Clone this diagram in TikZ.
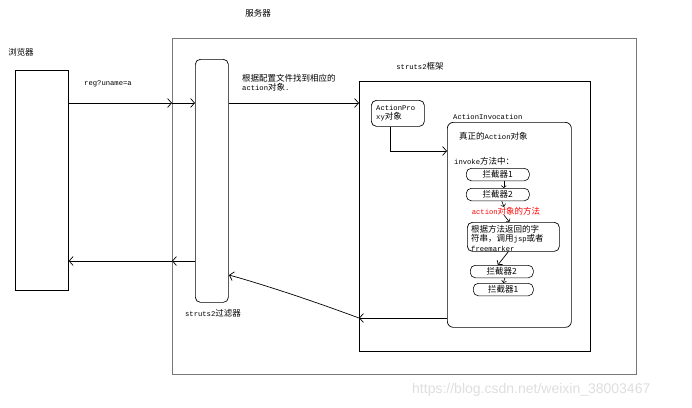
\documentclass[tikz,border=0pt]{standalone}
\usepackage{fontspec}
\setmainfont{Liberation Mono}
\newfontfamily\cjk[Scale=1.18]{Noto Sans CJK SC}
\newfontfamily\wmfont{Liberation Sans}
\usetikzlibrary{arrows.meta, positioning, calc}
\definecolor{servergray}{RGB}{120, 120, 120}
\definecolor{markgray}{RGB}{222, 222, 222}
\tikzset{
    plainbox/.style = {rectangle, draw, line width=0.7pt, anchor=north west, inner sep=0pt},
    roundbox/.style = {plainbox, rounded corners=5pt},
    pillbox/.style = {plainbox, line width=0.6pt, rounded corners=5pt, minimum height=12.5pt, font=\cjk\fontsize{7.2}{8}\selectfont},
    txt/.style = {inner sep=0pt, font=\fontsize{7.2}{9.5}\selectfont},
    arrow/.style = {line width=0.7pt, -{Straight Barb[length=4pt,width=9pt]}},
    tinyarrow/.style = {line width=0.6pt, -{Straight Barb[length=2pt,width=5pt]}}
}

\begin{document}
\begin{tikzpicture}[x=1pt, y=-1pt]
\useasboundingbox (0,0) rectangle (692,407);

% browser and server
\node (server) [plainbox, draw=servergray, minimum width=464pt, minimum height=336pt] at (172,38) {};
\node (servertitle) [txt, font=\cjk\fontsize{7.2}{8}\selectfont] at (258,13) {服务器};
\node (browser) [plainbox, minimum width=53pt, minimum height=220pt] at (15,70) {};
\node (browsertitle) [txt, font=\cjk\fontsize{7.2}{8}\selectfont] at (21,52) {浏览器};
\node (filter) [roundbox, minimum width=33pt, minimum height=243pt] at (195,59) {};
\node (filtertitle) [txt] at (213,313) {struts2{\cjk 过滤器}};

% struts2 framework
\node (frame) [plainbox, minimum width=231pt, minimum height=270pt] at (359,81) {};
\node (frametitle) [txt] at (420,66) {struts2{\cjk 框架}};
\node (proxy) [roundbox, minimum width=53pt, minimum height=26pt] at (371,100) {};
\node (proxytext) [txt, align=left, anchor=north west] at (376,105) {ActionPro\\xy{\cjk 对象}};
\node (invocation) [roundbox, rounded corners=6pt, minimum width=124pt, minimum height=205pt] at (447,122) {};
\node (invoctitle) [txt, anchor=south west] at (453,120) {ActionInvocation};
\node (realaction) [txt, anchor=west] at (459,136) {{\cjk 真正的}Action{\cjk 对象}};
\node (invoke) [txt, anchor=west] at (454,161) {invoke{\cjk 方法中：}};
\node (icpt1) [pillbox, minimum width=63pt] at (466,168) {拦截器1};
\node (icpt2) [pillbox, minimum width=63pt] at (466,188) {拦截器2};
\node (method) [txt, text=red] at (506,211) {action{\cjk 对象的方法}};
\node (result) [roundbox, minimum width=92pt, minimum height=29pt] at (467,222) {};
\node (resulttext) [txt, align=left, anchor=north west] at (471,225) {{\cjk 根据方法返回的字}\\{\cjk 符串，调用}jsp{\cjk 或者}\\freemarker};
\node (icpt3) [pillbox, minimum width=63pt] at (470,265) {拦截器2};
\node (icpt4) [pillbox, minimum width=60pt] at (473,283) {拦截器1};

% request
\coordinate (reqgate) at (172,103);
\draw [arrow] (browser.east |- reqgate) -- (reqgate);
\draw [arrow] (reqgate) -- (filter.west |- reqgate);
\node (reqlabel) [txt] at (108,84) {reg?uname=a};
\draw [arrow] (filter.east |- reqgate) -- (frame.west |- reqgate);
\node (findlabel) [txt, align=left, anchor=north west] at (242,74) {{\cjk 根据配置文件找到相应的}\\action{\cjk 对象}.};

% inside the framework
\coordinate (proxydrop) at (390,151);
\draw [arrow] (proxy.south -| proxydrop) |- (invocation.west |- proxydrop);
\draw [tinyarrow] ([xshift=6pt]icpt1.south) -- ([xshift=6pt]icpt2.north);
\draw [tinyarrow] ([xshift=4pt]icpt2.south) -- ([xshift=-2pt]method.north);
\draw [tinyarrow] ([xshift=-2pt]method.south) -- ([xshift=-4pt]result.north);
\draw [arrow, -{Straight Barb[length=3pt,width=7pt]}] ([xshift=-5pt]result.south) -- ([xshift=-4pt]icpt3.north);
\draw [tinyarrow] ([xshift=3pt]icpt3.south) -- ([xshift=0pt]icpt4.north);

% response
\coordinate (backgate) at (360,318);
\coordinate (filterback) at (229,275);
\draw [arrow] (invocation.west |- backgate) -- (frame.west |- backgate);
\draw [arrow] (frame.west |- backgate) .. controls (305,298) and (258,283) .. (filterback);
\coordinate (respgate) at (172,261);
\draw [arrow] (filter.west |- respgate) -- (respgate);
\draw [arrow] (respgate) -- (browser.east |- respgate);

\node (watermark) [inner sep=0pt, anchor=west, text=markgray, font=\wmfont\fontsize{14}{16}\selectfont] at (412,390) {https://blog.csdn.net/weixin\_38003467};
\end{tikzpicture}
\end{document}
